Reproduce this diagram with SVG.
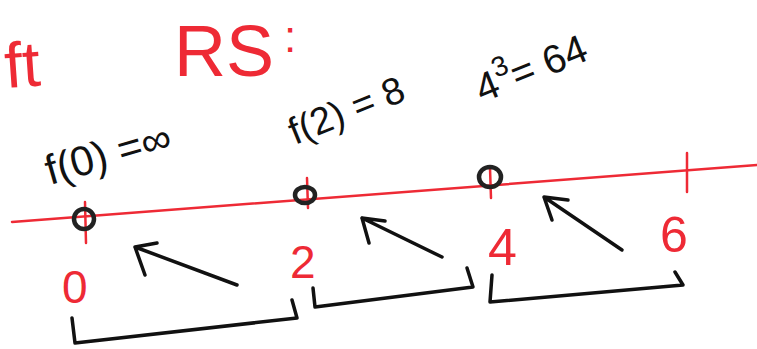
<svg xmlns="http://www.w3.org/2000/svg" width="757" height="349" viewBox="0 0 757 349">
<style>
.red{fill:#ee2a35;font-family:"Liberation Sans",Arial,sans-serif;}
.blk{fill:#111;font-family:"Liberation Sans",Arial,sans-serif;}
.ink{fill:none;stroke:#111;stroke-width:3.5;stroke-linecap:round;stroke-linejoin:round;}
.rline{fill:none;stroke:#ee2a35;stroke-width:2.5;stroke-linecap:round;}
.dot{fill:none;stroke:#222;stroke-width:4.5;}
</style>
<rect width="757" height="349" fill="#fff"/>
<g id="title">
<text class="red" x="6" y="88" font-size="64" transform="rotate(-4 6 88)">ft</text>
<text class="red" x="174" y="76" font-size="72">RS</text>
<text class="red" x="284" y="52" font-size="44">:</text>
</g>
<g id="numberline">
<line class="rline" x1="12" y1="222" x2="757" y2="165"/>
<line class="rline" x1="85" y1="202" x2="86" y2="243"/>
<line class="rline" x1="307" y1="178" x2="308" y2="208"/>
<line class="rline" x1="490" y1="168" x2="491" y2="198"/>
<line class="rline" x1="687" y1="153" x2="687" y2="192"/>
</g>
<g id="points">
<ellipse class="dot" cx="84" cy="219" rx="10" ry="10"/>
<ellipse class="dot" cx="305" cy="195" rx="10" ry="8"/>
<ellipse class="dot" cx="490" cy="177" rx="11" ry="10"/>
</g>
<g id="labels">
<text class="red" x="62" y="303" font-size="46">0</text>
<text class="red" x="290" y="278" font-size="46">2</text>
<text class="red" x="488" y="265" font-size="52">4</text>
<text class="red" x="660" y="252" font-size="50">6</text>
</g>
<g id="values">
<text class="blk" x="50" y="185" font-size="42" transform="rotate(-16 50 185)">f(0) =∞</text>
<text class="blk" x="295" y="145" font-size="38" transform="rotate(-22 295 145)">f(2) = 8</text>
<text class="blk" x="482" y="103" font-size="40" transform="rotate(-22 482 103)">4<tspan font-size="28" dy="-18">3</tspan><tspan dy="18">= 64</tspan></text>
</g>
<g id="connectors">
<path class="ink" d="M237,285 L135,247 M157,243 L135,247 L145,275"/>
<path class="ink" d="M442,257 L362,218 M385,221 L362,218 L369,243"/>
<path class="ink" d="M622,250 L544,197 M568,200 L544,197 L552,220"/>
<path class="ink" d="M72,318 L75,343 L297,318 L292,300"/>
<path class="ink" d="M313,288 L315,307 L473,287 L467,268"/>
<path class="ink" d="M492,275 L490,302 L683,285 L675,272"/>
</g>
</svg>
